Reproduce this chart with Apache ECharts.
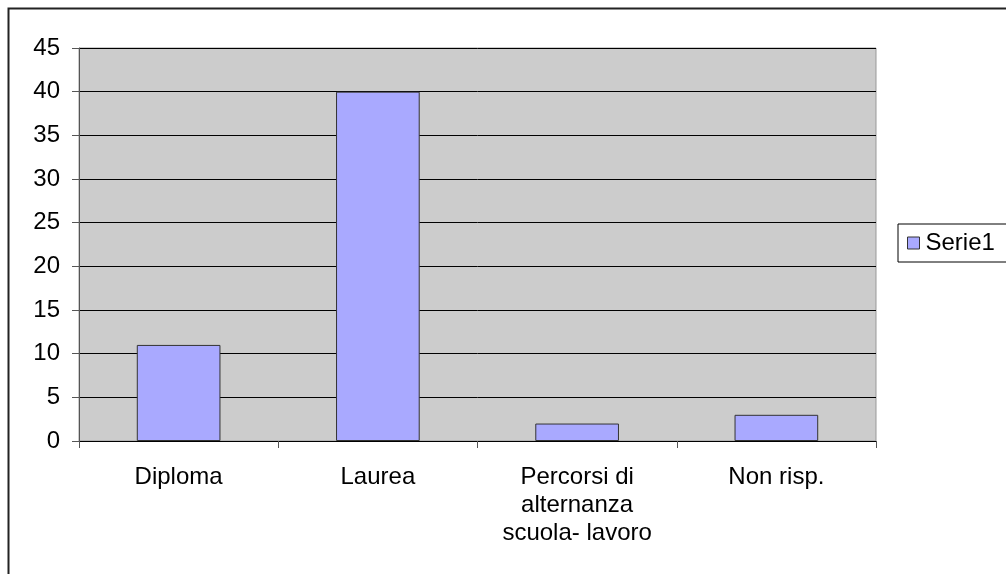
<!DOCTYPE html>
<html>
<head>
<meta charset="utf-8">
<script src="https://cdn.jsdelivr.net/npm/echarts@6/dist/echarts.min.js"></script>
<style>
  html, body { margin: 0; padding: 0; background: #fff; }
  #chart { width: 1006px; height: 574px; }
</style>
</head>
<body>
<div id="chart"></div>
<script>
const categories = ["Diploma", "Laurea", "Percorsi di\nalternanza\nscuola- lavoro", "Non risp."];
const serie1 = [11, 40, 2, 3];
const seriesName = "Serie1";

const chart = echarts.init(document.getElementById("chart"));
const font = "Liberation Sans, Arial, sans-serif";

chart.setOption({
  animation: false,
  grid: {
    left: 79,
    right: 130,
    top: 48,
    bottom: 133,
    show: true,
    backgroundColor: "#cccccc",
    borderColor: "#999999",
    borderWidth: 1
  },
  legend: {
    left: 898,
    top: 224,
    orient: "vertical",
    padding: [7, 40, 7, 9],
    itemWidth: 12,
    itemHeight: 12,
    borderColor: "#000",
    borderWidth: 1,
    textStyle: { fontFamily: font, fontSize: 24, color: "#000", padding: [0, 0, 0, 1] },
    data: [{ name: seriesName, icon: "rect", itemStyle: { borderColor: "#333", borderWidth: 1 } }]
  },
  xAxis: {
    type: "category",
    data: categories,
    axisLine: { lineStyle: { color: "#000", width: 1 } },
    axisTick: { show: true, length: 7, lineStyle: { color: "#555" } },
    axisLabel: { fontFamily: font, fontSize: 24, color: "#000", lineHeight: 28, margin: 22 }
  },
  yAxis: {
    type: "value",
    min: 0,
    max: 45,
    interval: 5,
    axisLine: { show: true, lineStyle: { color: "#555" } },
    axisTick: { show: true, length: 7, lineStyle: { color: "#555" } },
    splitLine: { lineStyle: { color: "#000", width: 1 } },
    axisLabel: { fontFamily: font, fontSize: 24, color: "#000", margin: 19 }
  },
  series: [{
    name: seriesName,
    type: "bar",
    data: serie1,
    barCategoryGap: "58%",
    itemStyle: { color: "#a9a9ff", borderColor: "#333", borderWidth: 1 }
  }],
  graphic: [{
    type: "rect",
    shape: { x: 8.5, y: 8.5, width: 1100, height: 700 },
    style: { fill: null, stroke: "#222", lineWidth: 2 },
    silent: true
  }]
});
</script>
</body>
</html>
